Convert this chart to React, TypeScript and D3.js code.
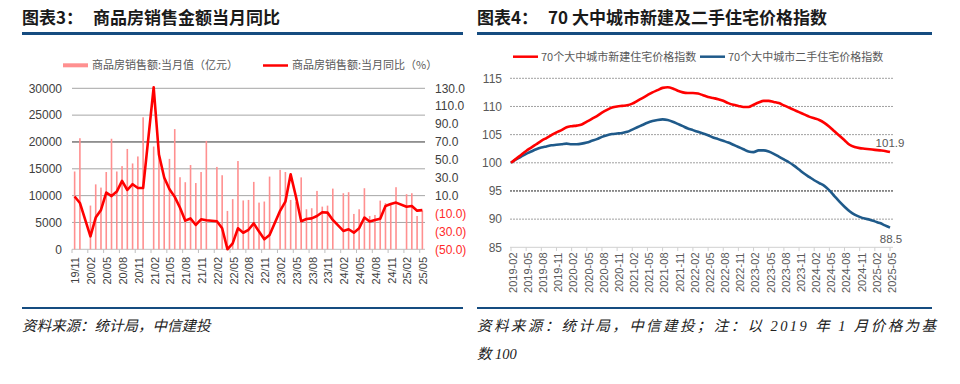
import React from "react";
import * as d3 from "d3";

// ---------- Left chart data (2019-11 .. 2025-05) ----------
const salesMonths = d3.timeMonth.range(new Date(2019, 10, 1), new Date(2025, 5, 1));
const salesValue: (number | null)[] = [
  14500, 20700, null, 8150, 12100, 11500, 14400, 20600, 14500, 15500, 18700, 16000, 17300, 24600,
  null, 19150, 17800, 13600, 16850, 22400, 13430, 12500, 15700, 12350, 14400, 20200,
  null, 15350, 13800, 7150, 9350, 16450, 9100, 9200, 12560, 8700, 8900, 13550,
  null, 14800, 14400, 9200, 8800, 13400, 7460, 7650, 10880, 7950, 8140, 11310,
  null, 10450, 10640, 6590, 7460, 11380, 6210, 6400, 9070, 8600, 8400, 11570,
  null, 10270, 10450, 6210, 7210,
];
const salesYoY: (number | null)[] = [
  9, 1.8, null, -35.5, -14.5, -6, 13.5, 9.5, 14.5, 26.5, 16.3, 22.8, 18.5, 18.5,
  null, 131, 56, 30.3, 17.2, 8.6, -3.5, -18, -15.5, -22.8, -16.5, -17.5,
  null, -18.7, -26.5, -50, -43.3, -26.5, -31.5, -28.2, -21, -30.2, -38.8, -34,
  null, -7, 3.2, 33.8, 9, -18.7, -16.2, -15.4, -12.8, -8.6, -9, -17.2,
  null, -29.5, -27.6, -31.4, -26.5, -14.5, -19, -17.2, -15.8, -1.5, 0.6, 2.2,
  null, -2.4, -1.6, -6.8, -6.2,
];
const leftTickLabels = [
  "19/11", "20/02", "20/05", "20/08", "20/11", "21/02", "21/05", "21/08", "21/11", "22/02", "22/05", "22/08",
  "22/11", "23/02", "23/05", "23/08", "23/11", "24/02", "24/05", "24/08", "24/11", "25/02", "25/05",
];
const leftYTicks = [0, 5000, 10000, 15000, 20000, 25000, 30000];
const rightYTicks = [130, 110, 90, 70, 50, 30, 10, -10, -30, -50];

// ---------- Right chart data (2019-02 .. 2025-05) ----------
const priceMonths = d3.timeMonth.range(new Date(2019, 1, 1), new Date(2025, 5, 1));
const newHomeIndex = [
  100.0, 100.7, 101.4, 102.1, 102.7, 103.3, 103.9, 104.4, 104.9, 105.4, 105.8, 106.3,
  106.5, 106.6, 106.8, 107.3, 107.8, 108.3, 108.9, 109.4, 109.8, 110.0, 110.1, 110.2,
  110.5, 111.0, 111.5, 112.0, 112.5, 112.9, 113.3, 113.4, 113.2, 112.8, 112.5, 112.4,
  112.4, 112.3, 112.0, 111.7, 111.5, 111.3, 111.0, 110.6, 110.3, 110.1, 109.9, 109.9,
  110.3, 110.7, 111.0, 111.0, 110.8, 110.6, 110.2, 109.8, 109.4, 109.0, 108.6, 108.2,
  107.9, 107.6, 107.1, 106.4, 105.6, 104.8, 104.0, 103.2, 102.8, 102.6, 102.5, 102.4,
  102.3, 102.2, 102.1, 101.9,
];
const usedHomeIndex = [
  100.0, 100.6, 101.1, 101.6, 102.0, 102.4, 102.7, 102.9, 103.1, 103.2, 103.3, 103.4,
  103.3, 103.3, 103.4, 103.6, 103.9, 104.2, 104.6, 104.9, 105.1, 105.2, 105.3, 105.5,
  105.9, 106.3, 106.7, 107.1, 107.4, 107.6, 107.7, 107.6, 107.3, 106.9, 106.5, 106.1,
  105.8, 105.5, 105.2, 104.9, 104.5, 104.2, 103.9, 103.6, 103.2, 102.8, 102.4, 102.0,
  101.9, 102.2, 102.2, 102.0, 101.6, 101.1, 100.6, 100.1, 99.5, 98.8, 98.1, 97.5,
  96.9, 96.4, 95.9, 95.1, 94.1, 93.1, 92.2, 91.4, 90.8, 90.4, 90.1, 89.9,
  89.6, 89.3, 88.9, 88.5,
];
const priceTickLabels = [
  "2019-02", "2019-05", "2019-08", "2019-11", "2020-02", "2020-05", "2020-08", "2020-11",
  "2021-02", "2021-05", "2021-08", "2021-11", "2022-02", "2022-05", "2022-08", "2022-11",
  "2023-02", "2023-05", "2023-08", "2023-11", "2024-02", "2024-05", "2024-08", "2024-11",
  "2025-02", "2025-05",
];
const priceYTicks = [85, 90, 95, 100, 105, 110, 115];

const latin = "'Liberation Sans', Arial, 'Noto Sans CJK SC', sans-serif";
const cjk = "'Noto Sans CJK SC', 'Liberation Sans', sans-serif";
const footFont = "'Liberation Serif', 'Noto Sans CJK SC', serif";
const navy = "#154C80";

function LeftChart() {
  const x = d3.scaleBand<number>().domain(d3.range(salesMonths.length)).range([72, 425]);
  const bw = x.bandwidth();
  const cx = (i: number) => (x(i) as number) + bw / 2;
  const yL = d3.scaleLinear().domain([0, 30000]).range([249.3, 88.3]);
  const yR = d3.scaleLinear().domain([-50, 130]).range([249.3, 88.3]);
  const pts = salesYoY.map((v, i) => ({ i, v })).filter((d) => d.v != null) as { i: number; v: number }[];
  const line = d3.line<{ i: number; v: number }>().x((d) => cx(d.i)).y((d) => yR(d.v));
  return (
    <g>
      {leftYTicks.map((t) => (
        <line key={t} x1={72} x2={425} y1={yL(t)} y2={yL(t)}
          stroke={t === 20000 ? "#333" : t === 0 ? "#bfbfbf" : "#a6a6a6"} strokeWidth={1} />
      ))}
      {salesValue.map((v, i) =>
        v == null ? null : (
          <rect key={i} x={cx(i) - 0.8} width={1.6} y={yL(v)} height={yL(0) - yL(v)} fill="#FF9090" />
        )
      )}
      <path d={line(pts) as string} fill="none" stroke="#FF0000" strokeWidth={2.6} strokeLinejoin="round" />
      {leftYTicks.map((t) => (
        <text key={t} x={62} y={yL(t)} dy="0.35em" textAnchor="end" fontSize={12} fill="#404040" fontFamily={latin}>{t}</text>
      ))}
      {rightYTicks.map((t) => (
        <text key={t} x={435} y={yR(t)} dy="0.35em" textAnchor="start" fontSize={12}
          fill={t < 0 ? "#FF2a2a" : "#404040"} fontFamily={latin}>
          {t < 0 ? `(${Math.abs(t).toFixed(1)})` : t.toFixed(1)}
        </text>
      ))}
      {salesMonths.map((_, i) =>
        i % 3 === 0 ? (
          <g key={i}>
            <line x1={x(i) as number} x2={x(i) as number} y1={249.3} y2={253} stroke="#bfbfbf" />
            <text transform={`translate(${cx(i) + 1},257) rotate(-90)`} textAnchor="end" dy="0.35em"
              fontSize={11} fill="#404040" fontFamily={latin}>{leftTickLabels[i / 3]}</text>
          </g>
        ) : null
      )}
      {/* legend */}
      <rect x={63} y={63.3} width={25} height={4} fill="#FF9090" />
      <text x={92} y={69} fontSize={11} fill="#595959" fontFamily={cjk}>商品房销售额:当月值（亿元）</text>
      <line x1={263} x2={288} y1={65.5} y2={65.5} stroke="#FF0000" strokeWidth={2.5} />
      <text x={292} y={69} fontSize={11} fill="#595959" fontFamily={cjk}>商品房销售额:当月同比（%）</text>
    </g>
  );
}

function RightChart() {
  const x = d3.scalePoint<number>().domain(d3.range(priceMonths.length)).range([511, 890]);
  const y = d3.scaleLinear().domain([85, 115]).range([247.3, 78.3]);
  const line = d3.line<number>().x((_, i) => x(i) as number).y((d) => y(d)).curve(d3.curveMonotoneX);
  const last = priceMonths.length - 1;
  return (
    <g>
      {priceYTicks.map((t) =>
        t === 85 ? (
          <line key={t} x1={510} x2={893} y1={y(t)} y2={y(t)} stroke="#d0d0d0" />
        ) : (
          <line key={t} x1={510} x2={893} y1={y(t)} y2={y(t)} stroke={t === 95 ? "#222" : "#a0a0a0"}
            strokeWidth={1} strokeDasharray="2,1" />
        )
      )}
      <path d={line(usedHomeIndex) as string} fill="none" stroke="#1F5A8A" strokeWidth={2.6} />
      <path d={line(newHomeIndex) as string} fill="none" stroke="#FF0000" strokeWidth={2.6} />
      {priceYTicks.map((t) => (
        <text key={t} x={502} y={y(t)} dy="0.35em" textAnchor="end" fontSize={12} fill="#595959" fontFamily={latin}>{t}</text>
      ))}
      {priceMonths.map((_, i) =>
        i % 3 === 0 ? (
          <g key={i}>
            <line x1={x(i) as number} x2={x(i) as number} y1={247.3} y2={251} stroke="#d0d0d0" />
            <text transform={`translate(${(x(i) as number) + 2},252.5) rotate(-90)`} textAnchor="end" dy="0.35em"
              fontSize={11} fill="#595959" fontFamily={latin}>{priceTickLabels[i / 3]}</text>
          </g>
        ) : null
      )}
      <text x={890} y={147} textAnchor="middle" fontSize={11.5} fill="#595959" fontFamily={latin}>
        {newHomeIndex[last].toFixed(1)}
      </text>
      <text x={891} y={243} textAnchor="middle" fontSize={11.5} fill="#595959" fontFamily={latin}>
        {usedHomeIndex[last].toFixed(1)}
      </text>
      {/* legend */}
      <line x1={513} x2={538} y1={56.7} y2={56.7} stroke="#FF0000" strokeWidth={2.5} />
      <text x={541} y={61} fontSize={11} fill="#595959" fontFamily={cjk}>70个大中城市新建住宅价格指数</text>
      <line x1={700} x2={725} y1={56.7} y2={56.7} stroke="#1F5A8A" strokeWidth={2.5} />
      <text x={728} y={61} fontSize={11} fill="#595959" fontFamily={cjk}>70个大中城市二手住宅价格指数</text>
    </g>
  );
}

export default function App() {
  return (
    <svg width={960} height={384} viewBox="0 0 960 384"
      style={{ position: "absolute", left: 0, top: 0, display: "block", background: "#fff" }}>
      <rect x={0} y={0} width={960} height={384} fill="#fff" />
      {/* titles */}
      <text x={22} y={24} fontSize={17} fontWeight="bold" fill="#1a1a1a" fontFamily={cjk}>图表3：</text>
      <text x={93} y={24} fontSize={17} fontWeight="bold" fill="#1a1a1a" fontFamily={cjk}>商品房销售金额当月同比</text>
      <text x={477} y={24} fontSize={17} fontWeight="bold" fill="#1a1a1a" fontFamily={cjk}>图表4：</text>
      <text x={548} y={24} fontSize={17} fontWeight="bold" fill="#1a1a1a" fontFamily={cjk}>70 大中城市新建及二手住宅价格指数</text>
      <rect x={22} y={32} width={441} height={3} fill={navy} />
      <rect x={477} y={32} width={455} height={3} fill={navy} />

      <LeftChart />
      <RightChart />

      {/* footers */}
      <rect x={22} y={307} width={441} height={2} fill={navy} />
      <rect x={477} y={307} width={455} height={2} fill={navy} />
      <text x={22} y={331} fontSize={14.5} fontStyle="italic" fill="#222" fontFamily={footFont}>资料来源：统计局，中信建投</text>
      <text x={477} y={331} fontSize={14.5} fontStyle="italic" fill="#222" fontFamily={footFont}
        textLength={459} lengthAdjust="spacing">资料来源：统计局，中信建投；注：以 2019 年 1 月价格为基</text>
      <text x={477} y={359} fontSize={14.5} fontStyle="italic" fill="#222" fontFamily={footFont}>数 100</text>
    </svg>
  );
}
